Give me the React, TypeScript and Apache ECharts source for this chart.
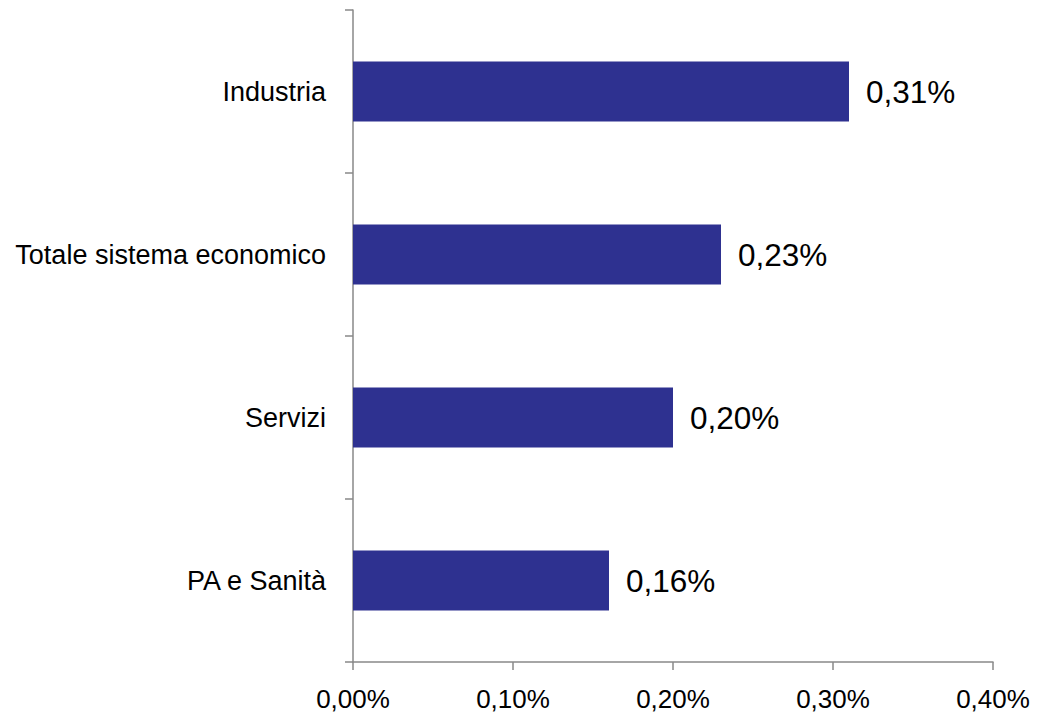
import React, { useEffect, useRef } from "react";
import * as echarts from "echarts";

const categories = ["Industria", "Totale sistema economico", "Servizi", "PA e Sanità"];
const values = [0.31, 0.23, 0.2, 0.16];
const axisMin = 0;
const axisMax = 0.4;
const axisStep = 0.1;

const fmt = (v: number) => v.toFixed(2).replace(".", ",") + "%";

export default function App() {
  const ref = useRef<HTMLDivElement>(null);
  useEffect(() => {
    if (!ref.current) return;
    const chart = echarts.init(ref.current, null, { renderer: "svg" });
    const font = "'Liberation Sans', Arial, sans-serif";
    const axisColor = "#898989";
    chart.setOption({
      animation: false,
      backgroundColor: "#ffffff",
      grid: { left: 353, right: 45, top: 10, bottom: 52, containLabel: false },
      xAxis: {
        type: "value",
        min: axisMin,
        max: axisMax,
        interval: axisStep,
        splitLine: { show: false },
        axisLine: { show: true, lineStyle: { color: axisColor, width: 1.5 } },
        axisTick: { show: true, length: 8, lineStyle: { color: axisColor, width: 1.5 } },
        axisLabel: {
          color: "#000",
          fontFamily: font,
          fontSize: 26,
          margin: 24,
          formatter: (v: number) => fmt(v),
        },
      },
      yAxis: {
        type: "category",
        data: categories,
        inverse: true,
        axisLine: { show: true, lineStyle: { color: axisColor, width: 1.5 } },
        axisTick: { show: true, length: 8, lineStyle: { color: axisColor, width: 1.5 } },
        axisLabel: { color: "#000", fontFamily: font, fontSize: 27, margin: 27 },
      },
      series: [
        {
          type: "bar",
          data: values,
          barWidth: 60,
          itemStyle: { color: "#2E3190" },
          label: {
            show: true,
            position: "right",
            distance: 17,
            color: "#000",
            fontFamily: font,
            fontSize: 31.5,
            formatter: (p: any) => fmt(p.value),
          },
        },
      ],
    });
    return () => chart.dispose();
  }, []);
  return (
    <div
      ref={ref}
      style={{ position: "fixed", left: 0, top: 0, width: 1038, height: 714, background: "#fff" }}
    />
  );
}
